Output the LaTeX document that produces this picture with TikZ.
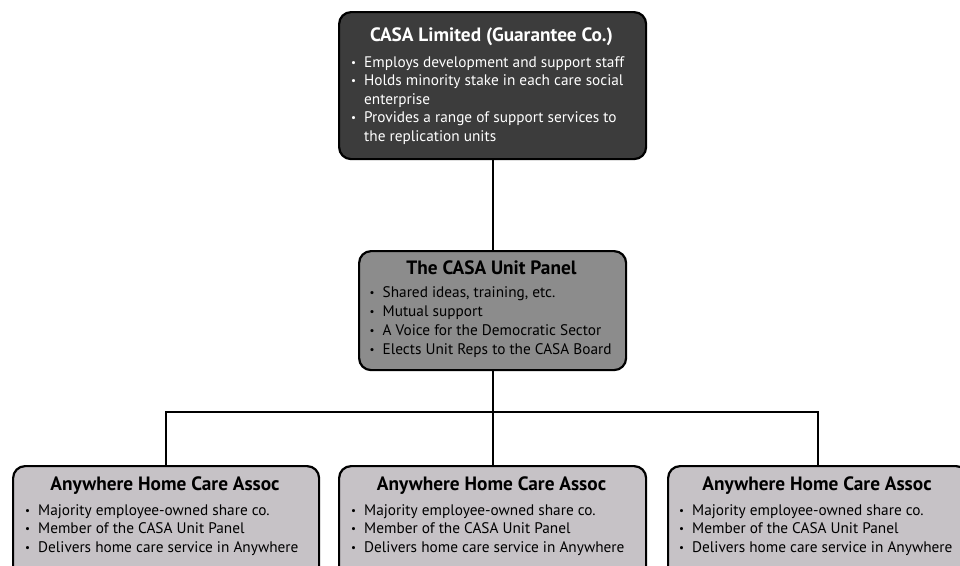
\documentclass[tikz,border=0pt]{standalone}
\usepackage{fontspec}
\setmainfont{PT Sans}
\definecolor{darkfill}{RGB}{60,60,60}
\definecolor{midfill}{RGB}{140,140,140}
\definecolor{lightfill}{RGB}{198,194,198}
\tikzset{
  box/.style={draw=black, line width=2.2pt, rounded corners=12pt, anchor=north west, inner sep=0pt},
  link/.style={draw=black, line width=2pt},
  ttl/.style={font=\fontsize{19.3}{22}\selectfont\bfseries, anchor=base, inner sep=0pt},
  txt/.style={font=\fontsize{15.3}{18}\selectfont, anchor=base west, inner sep=0pt},
  bul/.style={font=\fontsize{11}{11}\selectfont, anchor=base west, inner sep=0pt},
}
\newcommand\itemline[5]{% name, x, y, text, color
  \node[bul, text=#5] (#1b) at (#2-13,#3-1) {•};
  \node[txt, text=#5] (#1) at (#2,#3) {#4};}
\newcommand\contline[5]{%
  \node[txt, text=#5] (#1) at (#2,#3) {#4};}
\begin{document}
\begin{tikzpicture}[x=1pt,y=-1pt]
\useasboundingbox (0,0) rectangle (960,565);
\clip (0,0) rectangle (960,565);

% boxes
\node[box, fill=darkfill, minimum width=307pt, minimum height=147pt] (casa) at (338,11) {};
\node[box, fill=midfill, minimum width=267pt, minimum height=119pt] (panel) at (358,250) {};
\node[box, fill=lightfill, minimum width=306pt, minimum height=130pt] (ha) at (12,465) {};
\node[box, fill=lightfill, minimum width=307pt, minimum height=130pt] (hb) at (338,465) {};
\node[box, fill=lightfill, minimum width=300pt, minimum height=130pt] (hc) at (667,465) {};

% connectors
\coordinate (j) at (panel.south |- 0,412);
\draw[link] (casa.south) -- (casa.south |- panel.north);
\draw[link] (panel.south) -- (j);
\draw[link] (j) -| (ha.north);
\draw[link] (j) -| (hc.north);
\draw[link] (j) -- (j |- hb.north);

% top box text
\node[ttl, text=white] (casat) at (491.5,41) {CASA Limited (Guarantee Co.)};
\itemline{c1}{364}{67}{Employs development and support staff}{white}
\itemline{c2}{364}{85.5}{Holds minority stake in each care social}{white}
\contline{c3}{364}{104}{enterprise}{white}
\itemline{c4}{364}{122.5}{Provides a range of support services to}{white}
\contline{c5}{364}{141}{the replication units}{white}

% panel text
\node[ttl, text=black] (panelt) at (491.5,274) {The CASA Unit Panel};
\itemline{p1}{382.5}{297}{Shared ideas, training, etc.}{black}
\itemline{p2}{382.5}{316}{Mutual support}{black}
\itemline{p3}{382.5}{335}{A Voice for the Democratic Sector}{black}
\itemline{p4}{382.5}{354}{Elects Unit Reps to the CASA Board}{black}

% bottom boxes text
\node[ttl, text=black] (hat) at (165,490) {Anywhere Home Care Assoc};
\itemline{a1}{38}{515}{Majority employee-owned share co.}{black}
\itemline{a2}{38}{533.5}{Member of the CASA Unit Panel}{black}
\itemline{a3}{38}{552}{Delivers home care service in Anywhere}{black}

\node[ttl, text=black] (hbt) at (491.5,490) {Anywhere Home Care Assoc};
\itemline{b1}{364}{515}{Majority employee-owned share co.}{black}
\itemline{b2}{364}{533.5}{Member of the CASA Unit Panel}{black}
\itemline{b3}{364}{552}{Delivers home care service in Anywhere}{black}

\node[ttl, text=black] (hct) at (817,490) {Anywhere Home Care Assoc};
\itemline{d1}{692}{515}{Majority employee-owned share co.}{black}
\itemline{d2}{692}{533.5}{Member of the CASA Unit Panel}{black}
\itemline{d3}{692}{552}{Delivers home care service in Anywhere}{black}
\end{tikzpicture}
\end{document}
